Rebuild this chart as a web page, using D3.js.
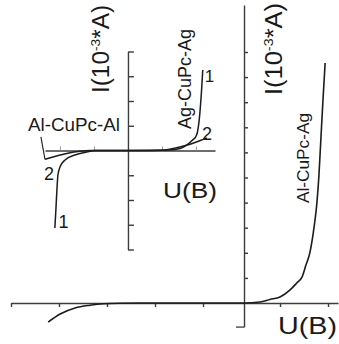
<!DOCTYPE html>
<html><head><meta charset="utf-8">
<script src="https://cdn.jsdelivr.net/npm/d3@7"></script>
<style>
html,body{margin:0;padding:0;background:#fff;}
svg{display:block;font-family:"Liberation Sans",Arial,Helvetica,sans-serif;}
</style></head><body>
<svg id="chart" width="339" height="344"></svg>
<script>
// ---- Main plot: Al-CuPc-Ag current–voltage curve ----
const mainXTicks = [-4.854, -3.854, -2.854, -1.854, -0.854, 0.75, 1.75];
const mainYTicks = [1, 2, 3, 4, 5, 6, 7, 8, 9, 10];
const mainU = [-4.08, -3.83, -3.52, -3.21, -2.92, -2.6, -2.0, -1.0, 0, 0.33, 0.54, 0.75, 0.96, 1.10, 1.21, 1.29, 1.375, 1.46, 1.52, 1.56, 1.60, 1.645, 1.69];
const mainI = [-0.76, -0.44, -0.20, -0.09, -0.03, -0.01, 0, 0, 0, 0.04, 0.14, 0.24, 0.52, 0.80, 1.04, 1.51, 2.03, 3.03, 4.02, 5.06, 6.49, 8.09, 9.56];

// ---- Inset: symmetric Al-CuPc-Al and Ag-CuPc-Ag structures ----
const insetXTicks = [-2, -1, 1, 2];
const insetYTicks = [-4, -3, -2, -1, 1, 2, 3, 4];
// Ag-CuPc-Ag, curves 1 and 2 (positive bias)
const agU1 = [0, 0.65, 1.235, 1.53, 1.726, 1.9, 2.02, 2.1, 2.165, 2.2];
const agI1 = [0, 0, 0.02, 0.08, 0.22, 0.42, 0.63, 1.3, 2.44, 3.25];
const agU2 = [0, 1.0, 1.40, 1.80, 2.20, 2.32];
const agI2 = [0, 0.01, 0.10, 0.24, 0.44, 0.505];
// Al-CuPc-Al, curves 1 and 2 (negative bias)
const alU1 = [-2.15, -2.12, -2.09, -2.06, -2.0, -1.85, -1.56, -1.21, -0.97, 0];
const alI1 = [-3.13, -2.40, -1.60, -0.99, -0.67, -0.38, -0.18, -0.06, 0, 0];
const alU2 = [-2.44, -1.10, 0];
const alI2 = [-0.355, 0, 0];

const svg = d3.select("#chart");
const axisColor = "#3c3c3c", curveColor = "#1c1c1c";

// Main scales
const xMain = d3.scaleLinear().domain([-4.854, 1.958]).range([11, 338]);
const yMain = d3.scaleLinear().domain([0, 10]).range([303, 52]);
const yMainAxis = d3.scaleLinear().domain([-0.96, 11.87]).range([yMain(-0.96), yMain(11.87)]);

// Inset scales
const xIn = d3.scaleLinear().domain([-2.44, 2.56]).range([45, 215]);
const yIn = d3.scaleLinear().domain([-4, 4]).range([249.5, 51.5]);

function styleAxis(g, color, width) {
  g.selectAll("path.domain").attr("stroke", color).attr("stroke-width", width);
  g.selectAll(".tick line").attr("stroke", color).attr("stroke-width", width);
  g.selectAll(".tick text").remove();
}

// Main x axis
svg.append("g").attr("transform", `translate(0,${yMain(0)})`)
  .call(d3.axisBottom(xMain).tickValues(mainXTicks).tickSize(4).tickSizeOuter(0).tickFormat(""))
  .call(g => styleAxis(g, axisColor, 1.4));

// Main y axis
svg.append("g").attr("transform", `translate(${xMain(0)},0)`)
  .call(d3.axisRight(yMainAxis).tickValues(mainYTicks).tickSize(4).tickSizeOuter(0).tickFormat(""))
  .call(g => styleAxis(g, axisColor, 1.4));
svg.append("line")
  .attr("x1", xMain(0) - 8).attr("x2", xMain(0))
  .attr("y1", yMain(-0.96)).attr("y2", yMain(-0.96))
  .attr("stroke", axisColor).attr("stroke-width", 1.3);

// Inset axes
svg.append("g").attr("transform", `translate(0,${yIn(0)})`)
  .call(d3.axisTop(xIn).tickValues(insetXTicks).tickSize(4).tickSizeOuter(0).tickFormat(""))
  .call(g => styleAxis(g, axisColor, 1.4))
  .call(g => g.selectAll(".tick line").attr("stroke", "#9a9a9a").attr("stroke-width", 1));
svg.append("g").attr("transform", `translate(${xIn(0)},0)`)
  .call(d3.axisRight(yIn).tickValues(insetYTicks).tickSize(6).tickSizeOuter(0).tickFormat(""))
  .call(g => styleAxis(g, axisColor, 1.4));

// Curves
const zip = (u, i) => u.map((d, k) => [d, i[k]]);
const mainLine = d3.line().x(d => xMain(d[0])).y(d => yMain(d[1])).curve(d3.curveMonotoneX);
const inLine = d3.line().x(d => xIn(d[0])).y(d => yIn(d[1])).curve(d3.curveMonotoneX);

svg.append("path").datum(zip(mainU, mainI)).attr("d", mainLine)
  .attr("fill", "none").attr("stroke", curveColor).attr("stroke-width", 1.6);

[[agU1, agI1], [agU2, agI2], [alU1, alI1], [alU2, alI2]].forEach(([u, i]) => {
  svg.append("path").datum(zip(u, i)).attr("d", inLine)
    .attr("fill", "none").attr("stroke", curveColor).attr("stroke-width", 1.5);
});

// Leader from the Al-CuPc-Al label to curve 2
svg.append("line")
  .attr("x1", xIn(-2.56)).attr("y1", yIn(0.55))
  .attr("x2", xIn(alU2[0])).attr("y2", yIn(alI2[0]))
  .attr("stroke", curveColor).attr("stroke-width", 1.1);

// Text
function label(x, y, txt, size, opts = {}) {
  const t = svg.append("text").attr("x", x).attr("y", y)
    .attr("font-size", size).attr("fill", "#1a1a1a")
    .attr("text-anchor", opts.anchor || "start").text(txt);
  if (opts.length) t.attr("textLength", opts.length).attr("lengthAdjust", "spacingAndGlyphs");
  if (opts.rotate) t.attr("transform", `rotate(-90,${x},${y})`);
  return t;
}

label(28, 131, "Al-CuPc-Al", 18, { length: 92 });
label(49, 180, "2", 18, { anchor: "middle" });
label(63.5, 228, "1", 18, { anchor: "middle" });
label(191, 79, "Ag-CuPc-Ag", 18, { anchor: "middle", length: 100, rotate: true });
label(209.5, 82, "1", 17, { anchor: "middle" });
label(207, 140, "2", 18, { anchor: "middle" });
label(309, 158, "Al-CuPc-Ag", 17, { anchor: "middle", length: 90, rotate: true });
label(163, 198, "U(B)", 22, { length: 54 });
label(278, 334, "U(B)", 24, { length: 59 });

// Current axis titles: I(10^-3*A)
function currentTitle(x, y, len) {
  const t = svg.append("text").attr("x", x).attr("y", y)
    .attr("font-size", 23).attr("fill", "#1a1a1a").attr("text-anchor", "middle")
    .attr("transform", `rotate(-90,${x},${y})`)
    .attr("textLength", len).attr("lengthAdjust", "spacingAndGlyphs");
  t.append("tspan").text("I(10");
  t.append("tspan").attr("font-size", 13).attr("dy", -9).text("-3");
  t.append("tspan").attr("dy", 9).text("*A)");
}
currentTitle(109, 49, 88);
currentTitle(282, 49, 92);
</script>
</body></html>
